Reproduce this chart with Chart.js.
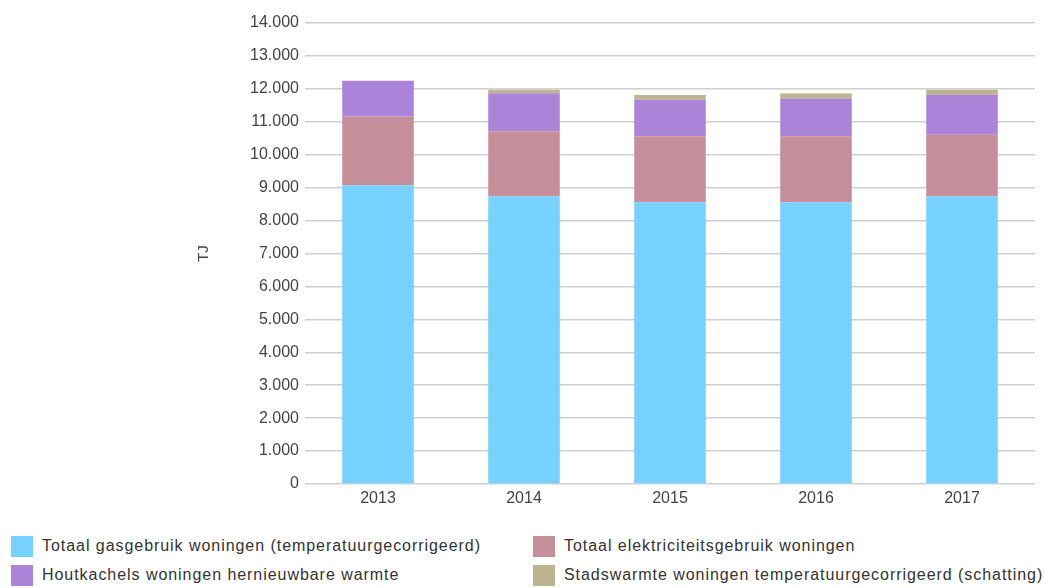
<!DOCTYPE html>
<html>
<head>
<meta charset="utf-8">
<script src="https://cdn.jsdelivr.net/npm/chart.js@4"></script>
<style>
  body { margin: 0; background: #fff; font-family: "Liberation Sans", Arial, sans-serif; }
  #wrap { position: relative; width: 1045px; height: 588px; }
  #chartBox { position: absolute; left: 0; top: 0; width: 1045px; height: 520px; }
  .leg { position: absolute; font-size: 16px; color: #333; white-space: nowrap; letter-spacing: 0.95px; }
  .leg span.sw { position: absolute; left: 0; top: 0; width: 22px; height: 21px; }
  .leg span.tx { position: absolute; left: 31px; top: 1px; }
</style>
</head>
<body>
<div id="wrap">
  <div id="chartBox"><canvas id="energieChart"></canvas></div>
  <div id="legend"></div>
</div>
<script>
const jaren = ["2013", "2014", "2015", "2016", "2017"];
const gasWoningen = [9070, 8730, 8560, 8560, 8730];
const elektriciteitWoningen = [2090, 1980, 2000, 2000, 1880];
const houtkachels = [1090, 1160, 1110, 1150, 1210];
const stadswarmte = [0, 100, 140, 150, 150];
const seriesNamen = [
    "Totaal gasgebruik woningen (temperatuurgecorrigeerd)",
    "Totaal elektriciteitsgebruik woningen",
    "Houtkachels woningen hernieuwbare warmte",
    "Stadswarmte woningen temperatuurgecorrigeerd (schatting)"
];
const kleuren = ["#77d1ff", "#c48e9a", "#ab83d8", "#bab58e"];

const reeksen = [gasWoningen, elektriciteitWoningen, houtkachels, stadswarmte];

function formatNL(v) {
    return String(v).replace(/\B(?=(\d{3})+(?!\d))/g, ".");
}

const canvas = document.getElementById("energieChart");
const ctx = canvas.getContext("2d");

new Chart(ctx, {
    type: "bar",
    data: {
        labels: jaren,
        datasets: reeksen.map((r, i) => ({
            label: seriesNamen[i],
            data: r,
            backgroundColor: kleuren[i],
            borderWidth: 0,
            barPercentage: 0.98,
            categoryPercentage: 0.5
        }))
    },
    options: {
        responsive: true,
        maintainAspectRatio: false,
        animation: false,
        layout: { padding: { left: 195, right: 10, top: 23, bottom: 0 } },
        plugins: {
            legend: { display: false },
            tooltip: { enabled: false }
        },
        scales: {
            x: {
                stacked: true,
                grid: { display: false },
                border: { display: false },
                ticks: {
                    color: "#444",
                    padding: -3,
                    font: { family: "Liberation Sans", size: 16 }
                },
                afterFit: (s) => { s.height = 36; }
            },
            y: {
                stacked: true,
                min: 0,
                max: 14000,
                border: { display: false },
                grid: { color: "#cfcfcf", lineWidth: 1.5, drawTicks: false },
                ticks: {
                    stepSize: 1000,
                    color: "#444",
                    padding: 6,
                    font: { family: "Liberation Sans", size: 16 },
                    callback: (v) => formatNL(v)
                },
                title: {
                    display: true,
                    text: "TJ",
                    color: "#444",
                    padding: 0,
                    font: { family: "Liberation Sans", size: 15 }
                },
                afterFit: (s) => { s.width = 110; }
            }
        }
    }
});

const legendPos = [[11, 536], [533, 536], [11, 565], [533, 565]];
const legend = document.getElementById("legend");
seriesNamen.forEach((naam, i) => {
    const d = document.createElement("div");
    d.className = "leg";
    d.style.left = legendPos[i][0] + "px";
    d.style.top = legendPos[i][1] + "px";
    d.innerHTML = '<span class="sw" style="background:' + kleuren[i] + '"></span><span class="tx"></span>';
    d.querySelector(".tx").textContent = naam;
    legend.appendChild(d);
});
</script>
</body>
</html>
